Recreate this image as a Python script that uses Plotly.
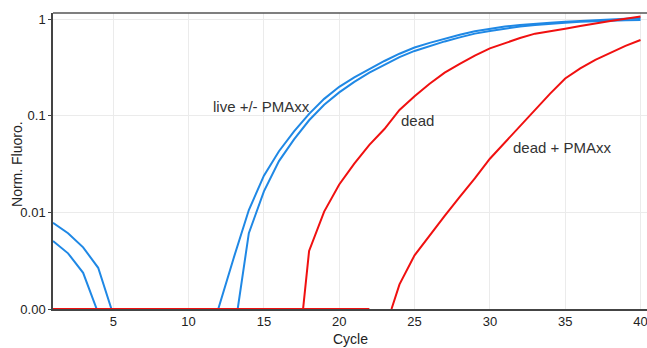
import math
import plotly.graph_objects as go

# ---- data ----
live_a_x = [1, 2, 3, 4, 4.88, 5, 6, 7, 8, 9, 10, 11, 11.97, 13, 14, 15, 16, 17, 18, 19, 20,
            21, 22, 23, 24, 25, 26, 27, 28, 29, 30, 31, 32, 33, 34, 35, 36, 37, 38, 39, 40]
live_a_y = [0.0078, 0.0061, 0.00435, 0.00267, 0.001, 0.001, 0.001, 0.001, 0.001, 0.001, 0.001, 0.001,
            0.001, 0.0034, 0.0106, 0.024, 0.043, 0.069, 0.105, 0.15, 0.20,
            0.25, 0.305, 0.37, 0.44, 0.51, 0.57, 0.63, 0.69, 0.75, 0.80, 0.84, 0.87, 0.90, 0.92, 0.94,
            0.96, 0.98, 0.995, 1.01, 1.03]

live_b_x = [1, 2, 3, 3.9, 4, 5, 6, 7, 8, 9, 10, 11, 12, 13, 13.26, 14, 15, 16, 17, 18, 19, 20,
            21, 22, 23, 24, 25, 26, 27, 28, 29, 30, 31, 32, 33, 34, 35, 36, 37, 38, 39, 40]
live_b_y = [0.00505, 0.00377, 0.00237, 0.001, 0.001, 0.001, 0.001, 0.001, 0.001, 0.001, 0.001, 0.001,
            0.001, 0.001, 0.001, 0.0061, 0.0165, 0.034, 0.057, 0.09, 0.13, 0.175,
            0.225, 0.28, 0.34, 0.405, 0.47, 0.53, 0.59, 0.65, 0.71, 0.757, 0.80, 0.84, 0.87, 0.90, 0.92,
            0.94, 0.955, 0.965, 0.975, 0.98]

dead_x = [1, 5, 10, 15, 17.6, 18, 19, 20, 21, 22, 23, 24, 25, 26, 27, 28, 29, 30,
          31, 32, 33, 34, 35, 36, 37, 38, 39, 40]
dead_y = [0.001, 0.001, 0.001, 0.001, 0.001, 0.0040, 0.0102, 0.0195, 0.032, 0.050, 0.073, 0.115, 0.16,
          0.215, 0.28, 0.345, 0.42, 0.50, 0.57, 0.64, 0.71, 0.76, 0.80, 0.85, 0.91, 0.96, 1.01, 1.07]

deadp_x = [1, 5, 10, 15, 20, 22, 23, 23.47, 24, 25, 26, 27, 28, 29, 30, 31, 32, 33, 34, 35,
           36, 37, 38, 39, 40]
deadp_y = [0.001, 0.001, 0.001, 0.001, 0.001, 0.001, None, 0.001, 0.0018, 0.0036, 0.0058, 0.0092,
           0.0145, 0.0225, 0.036, 0.053, 0.080, 0.117, 0.17, 0.244, 0.31, 0.38, 0.45, 0.53, 0.61]

x_ticks = [5, 10, 15, 20, 25, 30, 35, 40]
y_ticks = [0.001, 0.01, 0.1, 1]
y_tick_text = ["0.00", "0.01", "0.1", "1"]

labels = ["live +/- PMAxx", "dead", "dead + PMAxx"]
label_x = [14.86, 25.2, 34.8]
label_y = [0.126, 0.090, 0.047]

BLUE = "#1f88e5"
RED = "#f01010"

fig = go.Figure()
for xs, ys, col in [(live_a_x, live_a_y, BLUE), (live_b_x, live_b_y, BLUE),
                    (dead_x, dead_y, RED), (deadp_x, deadp_y, RED)]:
    fig.add_trace(go.Scatter(x=xs, y=ys, mode="lines", connectgaps=False,
                             line=dict(color=col, width=2), showlegend=False))

font = "Liberation Sans, Arial, sans-serif"
plot_h = 348 - 13 - 39
plot_w = 647 - 53

anns = [dict(text=t, x=x, y=math.log10(y), xref="x", yref="y", showarrow=False,
             font=dict(size=15, color="#333", family=font))
        for t, x, y in zip(labels, label_x, label_y)]
anns.append(dict(text="Cycle", x=0.5, y=-(339 - 309) / plot_h, xref="paper", yref="paper",
                 xanchor="center", yanchor="middle",
                 showarrow=False, font=dict(size=14, color="#222")))
anns.append(dict(text="Norm. Fluoro.", textangle=-90, x=-(53 - 17) / plot_w, y=0.49,
                 xref="paper", yref="paper", xanchor="center", yanchor="middle",
                 showarrow=False, font=dict(size=14, color="#222")))

fig.update_layout(
    width=647, height=348,
    margin=dict(l=53, r=0, t=13, b=39),
    paper_bgcolor="white", plot_bgcolor="white",
    font=dict(family=font, size=13, color="#222"),
    xaxis=dict(range=[1, 40.43], tickvals=x_ticks, showgrid=True, gridcolor="#ebebeb",
               showline=True, linecolor="#444", linewidth=1.5, zeroline=False,
               ticks="", layer="below traces", automargin=False, ticklabeloverflow="allow"),
    yaxis=dict(type="log", range=[-3, 0.065], tickvals=y_ticks, ticktext=y_tick_text,
               showgrid=True, gridcolor="#ebebeb", showline=True, linecolor="#444",
               linewidth=1.5, zeroline=False, ticks="outside", ticklen=3, tickcolor="#444",
               layer="below traces", automargin=False, ticklabeloverflow="allow"),
    shapes=[dict(type="line", xref="paper", yref="paper", x0=0, x1=1, y0=1, y1=1,
                 line=dict(color="#555", width=1.5))],
    annotations=anns,
)

fig.write_html("out.html", config={"displayModeBar": False},
               post_script="document.body.style.margin='0';document.body.style.padding='0';")
